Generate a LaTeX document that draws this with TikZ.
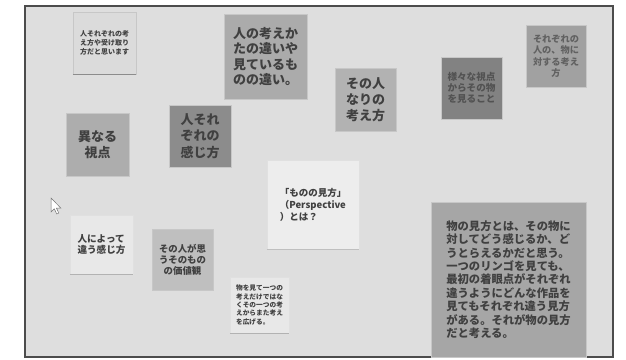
\documentclass[tikz,border=0pt]{standalone}
\usepackage{fontspec}
\setmainfont{Noto Sans CJK JP}
\definecolor{screenbg}{gray}{0.87}
\definecolor{txt}{gray}{0.25}
\tikzset{
  card/.style={fill=#1, draw=black!22, line width=0.4pt, inner sep=0pt, text=txt, align=left},
  cardc/.style={card=#1, align=center},
  shadowline/.style={draw=black!45, line width=1pt},
  frame/.style={draw=black!70, line width=1.1pt, fill=screenbg},
  pointer/.style={draw=black!55, fill=white, line width=0.5pt, line join=miter}
}
\begin{document}
\begin{tikzpicture}[x=1pt,y=-1pt]
\useasboundingbox (0,0) rectangle (626,359);
\fill[white] (0,0) rectangle (626,359);
\path[frame] (25,6) rectangle (613,357);

% cards
\node[cardc=black!14, minimum width=63, minimum height=62, font=\bfseries\fontsize{7}{8.7}\selectfont] (c1) at (104.5,43)
  {人それぞれの考\\え方や受け取り\\方だと思います};
\node[card=black!33, minimum width=83, minimum height=85, font=\bfseries\fontsize{13}{15.5}\selectfont] (c2) at (265.5,56.5)
  {人の考えか\\たの違いや\\見ているも\\のの違い。};
\node[card=black!30, minimum width=61, minimum height=63, font=\bfseries\fontsize{13}{16}\selectfont] (c3) at (365.5,99.5)
  {その人\\なりの\\考え方};
\node[cardc=black!49, minimum width=61, minimum height=62, text=black!68, font=\bfseries\fontsize{9.6}{11}\selectfont] (c4) at (471.5,88)
  {様々な視点\\からその物\\を見ること};
\node[cardc=black!37, minimum width=60, minimum height=62, text=black!62, font=\bfseries\fontsize{9.2}{11.5}\selectfont] (c5) at (556,56)
  {それぞれの\\人の、物に\\対する考え\\方};
\node[cardc=black!32, minimum width=63, minimum height=63, font=\bfseries\fontsize{13}{16}\selectfont] (c6) at (97.5,144.5)
  {異なる\\視点};
\node[card=black!45, minimum width=62, minimum height=62, font=\bfseries\fontsize{13}{16.5}\selectfont] (c7) at (200,136)
  {人それ\\ぞれの\\感じ方};
\node[card=black!7, draw=black!12, minimum width=92, minimum height=89, font=\bfseries\fontsize{9.5}{12}\selectfont] (c8) at (313,204.5)
  {「ものの見方」\\（Perspective\\）とは？};
\node[card=black!9, draw=black!12, minimum width=63, minimum height=59, font=\bfseries\fontsize{9.6}{11}\selectfont] (c9) at (101.5,244.5)
  {人によって\\違う感じ方};
\node[cardc=black!25, minimum width=61, minimum height=61, font=\bfseries\fontsize{9.4}{11}\selectfont] (c10) at (182.5,259.5)
  {その人が思\\うそのもの\\の価値観};
\node[card=black!9, draw=black!12, minimum width=59, minimum height=56, font=\bfseries\fontsize{6.7}{8.3}\selectfont] (c11) at (259.5,305)
  {物を見て一つの\\考えだけではな\\くその一つの考\\えからまた考え\\を広げる。};
\node[card=black!35, minimum width=155, minimum height=155, font=\bfseries\fontsize{11.3}{13.4}\selectfont] (c12) at (508.5,279.5)
  {物の見方とは、その物に\\対してどう感じるか、ど\\うとらえるかだと思う。\\一つのリンゴを見ても、\\最初の着眼点がそれぞれ\\違うようにどんな作品を\\見てもそれぞれ違う見方\\がある。それが物の見方\\だと考える。};

% bottom edges
\draw[shadowline] (c1.south west) -- (c1.south east);
\draw[shadowline, draw=black!30] (c9.south west) -- (c9.south east);
\draw[shadowline, draw=black!30] (c11.south west) -- (c11.south east);
\draw[shadowline, draw=black!25, line width=0.6pt] (c8.south west) -- (c8.south east);

% mouse pointer
\coordinate (ptr) at (51,198);
\path[pointer, shift={(ptr)}] (0,0) -- (0,14) -- (3.3,10.8) -- (5.8,16) -- (7.8,15) -- (5.4,10) -- (9.8,10) -- cycle;
\end{tikzpicture}
\end{document}
